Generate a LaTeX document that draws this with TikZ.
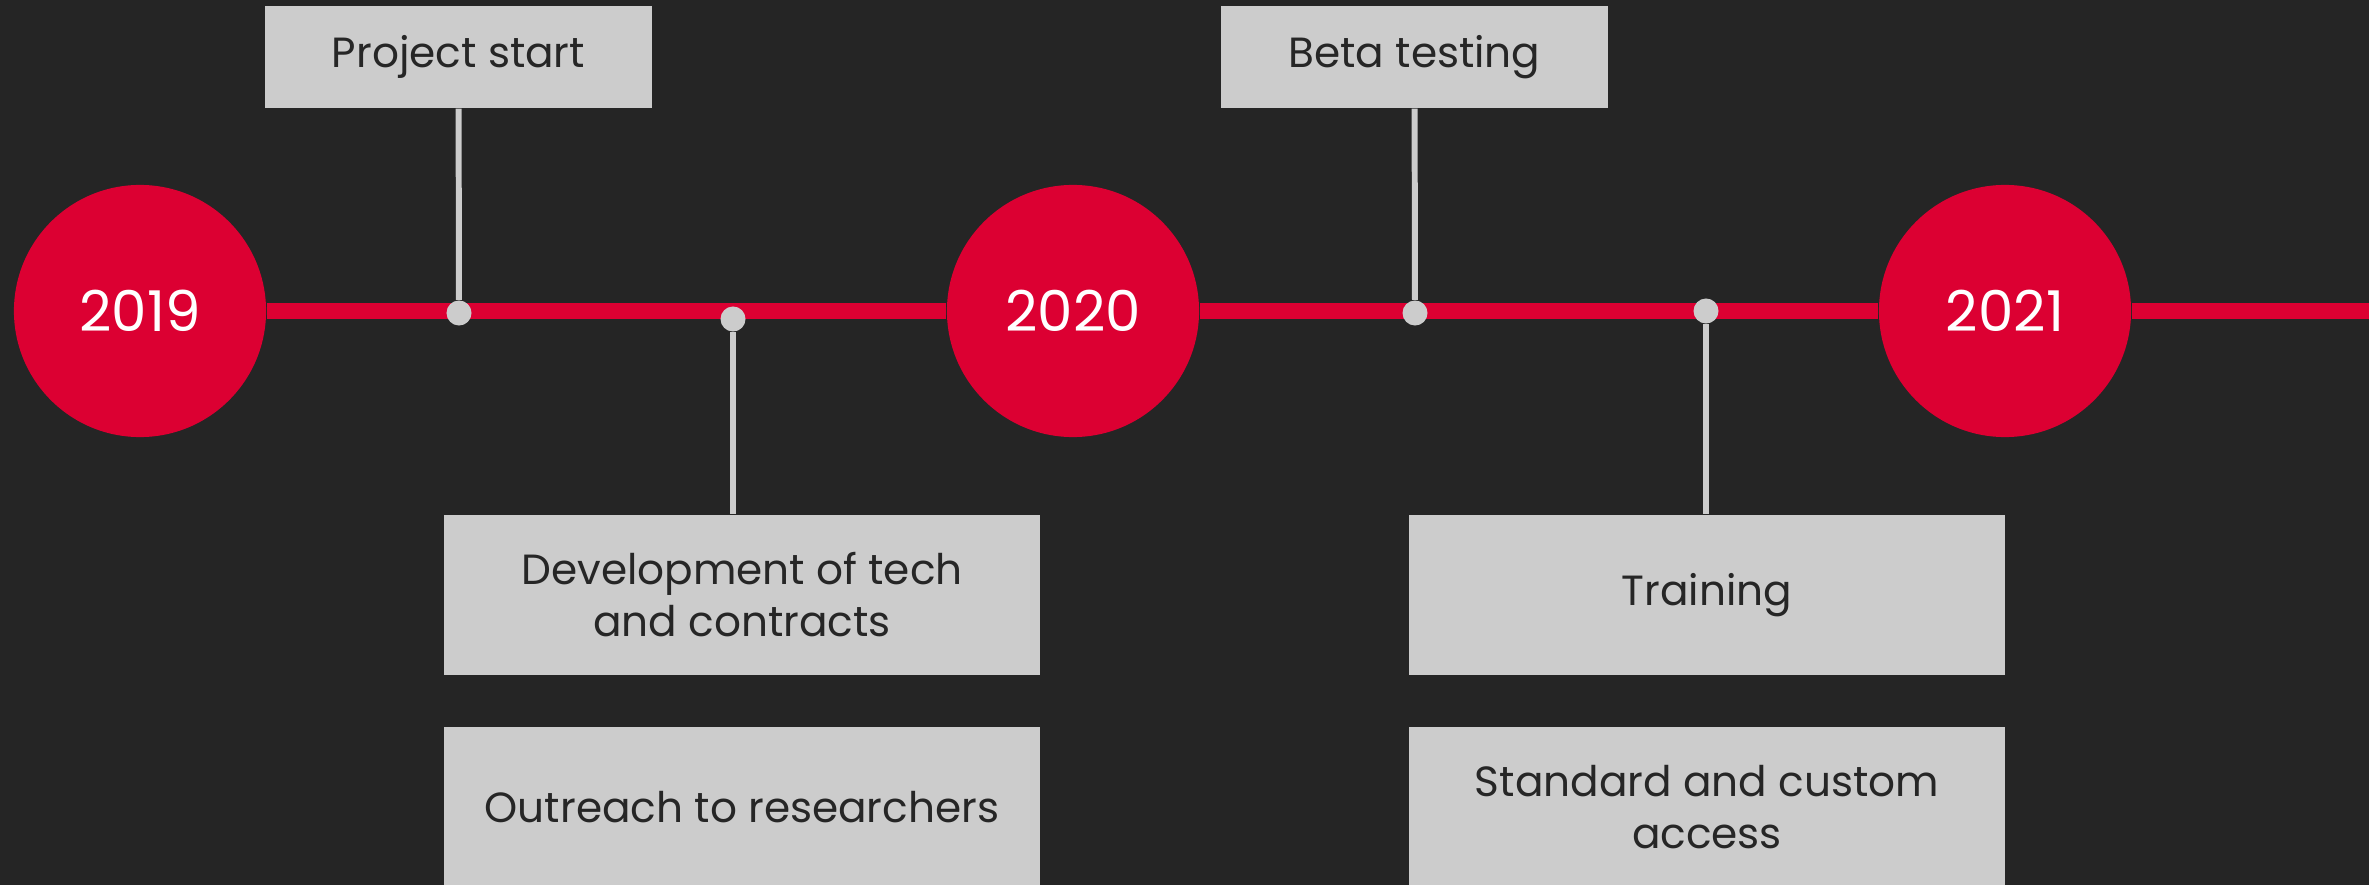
\documentclass[tikz,border=0pt]{standalone}
\usepackage{fontspec}
\setmainfont{Poppins}
\usetikzlibrary{positioning}
\definecolor{bg}{HTML}{252525}
\definecolor{accent}{HTML}{DC0032}
\definecolor{pale}{HTML}{CCCCCC}
\definecolor{ink}{HTML}{262626}

\begin{document}
\begin{tikzpicture}[x=0.01cm, y=-0.01cm,
  year/.style={circle, fill=accent, text=white, minimum size=2.52cm, inner sep=0pt, font=\fontsize{16}{19}\selectfont},
  bead/.style={circle, fill=pale, minimum size=0.25cm, inner sep=0pt},
  tag/.style={fill=pale, text=ink, minimum width=3.87cm, minimum height=1.02cm, inner sep=0pt, font=\fontsize{12}{14.8}\selectfont},
  card/.style={tag, minimum width=5.96cm, minimum height=1.60cm, align=center},
  track/.style={accent, line width=4.55pt},
  stem/.style={pale, line width=1.7pt}]

	\fill[bg] (0,0) rectangle (2369,885);
	\useasboundingbox (0,0) rectangle (2369,885);

	% years
	\node[year] (y2019) at (140,311) {2019};
	\node[year] (y2020) at (1073,311) {2020};
	\node[year] (y2021) at (2005,311) {2021};
	\coordinate (tEnd) at (2369,311);

	\draw[track] (y2019) -- (y2020);
	\draw[track] (y2020) -- (y2021);
	\draw[track] (y2021) -- (tEnd);

	% milestones on the line
	\node[bead] (dStart) at (459,313) {};
	\node[bead] (dDev)   at (733,319) {};
	\node[bead] (dBeta)  at (1415,313) {};
	\node[bead] (dTrain) at (1706,311) {};

	% upper labels
	\node[tag] (start) at (458.5,57) {Project start};
	\node[tag] (beta)  at (1414.5,57) {Beta testing};

	% lower labels
	\node[card] (dev)      at (742,595)  {Development of tech\\and contracts};
	\node[card] (outreach) at (742,807)  {Outreach to researchers};
	\node[card] (train)    at (1707,595) {Training};
	\node[card] (access)   at (1707,807) {Standard and custom\\access};

	\draw[stem] (start) -- (dStart);
	\draw[stem] (beta) -- (dBeta);
	\draw[stem] (dDev) -- (dDev |- dev.north);
	\draw[stem] (dTrain) -- (dTrain |- train.north);

\end{tikzpicture}
\end{document}
